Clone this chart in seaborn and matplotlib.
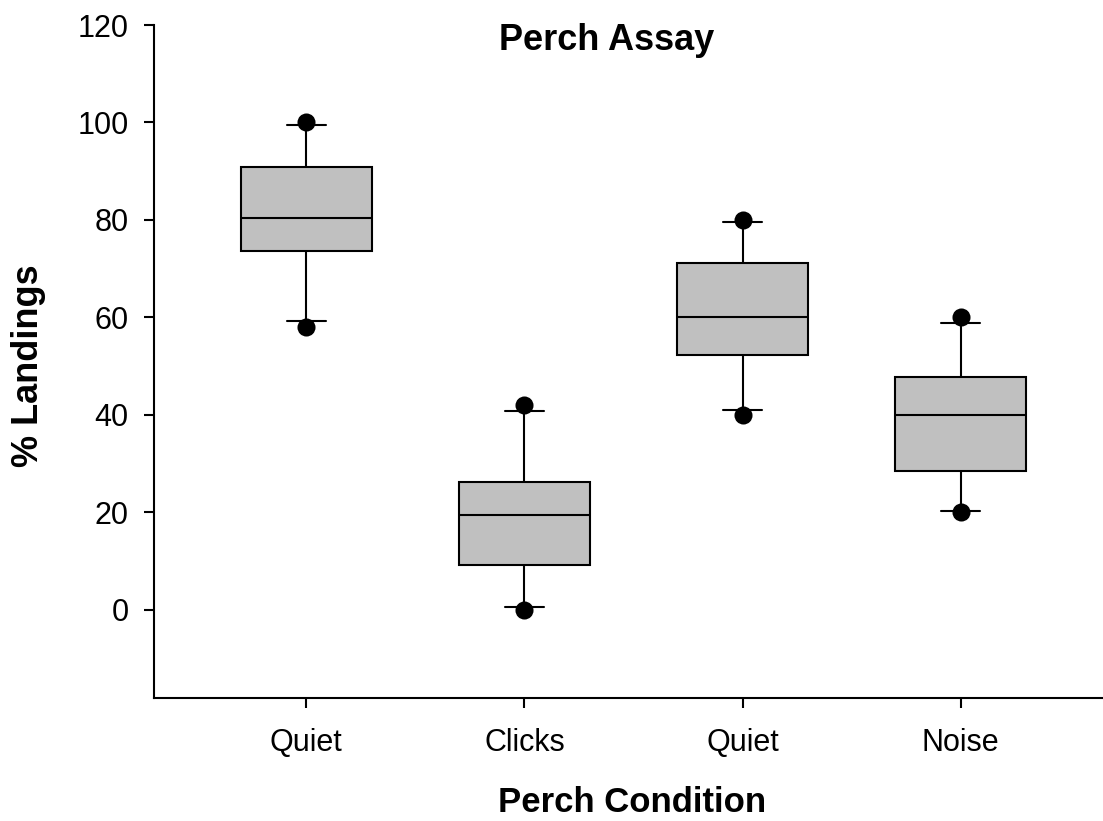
import numpy as np
import pandas as pd
import matplotlib
matplotlib.use("Agg")
import matplotlib.pyplot as plt
import seaborn as sns

# Perch landing percentages per acoustic condition
conditions = ["Quiet", "Clicks", "Quiet", "Noise"]
slots = [0, 1, 2, 3]
whisker_low = [59.2, 0.7, 41.0, 20.4]
q1 = [73.6, 9.2, 52.3, 28.6]
median = [80.5, 19.5, 60.0, 39.9]
q3 = [90.8, 26.2, 71.2, 47.7]
whisker_high = [99.4, 40.8, 79.5, 58.9]
point_low = [58, 0, 40, 20]
point_high = [100, 42, 80, 60]

sns.set_style("ticks")
plt.rcParams["font.family"] = ["Liberation Sans", "DejaVu Sans"]
plt.rcParams["text.color"] = "black"
plt.rcParams["axes.labelcolor"] = "black"
plt.rcParams["xtick.color"] = "black"
plt.rcParams["ytick.color"] = "black"

# Box summaries: seven values per slot whose 0/25/50/75/100 percentiles
# reproduce the whisker ends, quartiles and median.
box_rows = []
for s, lo, a, m, b, hi in zip(slots, whisker_low, q1, median, q3, whisker_high):
    for v in (lo, a, a, m, b, b, hi):
        box_rows.append({"slot": s, "value": v})
box_df = pd.DataFrame(box_rows)

pt_df = pd.DataFrame({
    "slot": slots + slots,
    "value": point_low + point_high,
})

fig = plt.figure(figsize=(11.03, 8.21), dpi=100)
ax = fig.add_axes([153.7 / 1103, 1 - 697.7 / 821, 1 - 153.7 / 1103,
                   (697.7 - 25) / 821])

sns.boxplot(data=box_df, x="slot", y="value", order=slots, whis=(0, 100),
            width=0.6, color="#C0C0C0", saturation=1, linecolor="black",
            linewidth=1.5, showfliers=False, capwidths=0.18, ax=ax)
sns.stripplot(data=pt_df, x="slot", y="value", order=slots, jitter=False,
              color="black", size=13, zorder=4, ax=ax)

ax.set_xlim(-0.70, 3.653)
ax.set_ylim(-18, 120)
ax.set_yticks(np.arange(0, 121, 20))
ax.set_xticks(slots)
ax.set_xticklabels(conditions)
ax.tick_params(axis="both", labelsize=22, length=7, width=1.5,
               color="black", labelcolor="black")
ax.tick_params(axis="x", pad=15)
ax.tick_params(axis="y", pad=11)
for side in ("left", "bottom"):
    ax.spines[side].set_linewidth(1.5)
    ax.spines[side].set_color("black")
sns.despine(ax=ax)
ax.set_xlabel("")
ax.set_ylabel("")

fig.text(607 / 1103, 1 - 41 / 821, "Perch Assay", ha="center", va="center",
         fontsize=26, fontweight="bold", color="black")
fig.text(632 / 1103, 1 - 802 / 821, "Perch Condition", ha="center",
         va="center", fontsize=25, fontweight="bold", color="black")
fig.text(29 / 1103, 1 - 366 / 821, "% Landings", ha="center", va="center",
         rotation=90, fontsize=26, fontweight="bold", color="black")

fig.savefig("out.png", dpi=100)
